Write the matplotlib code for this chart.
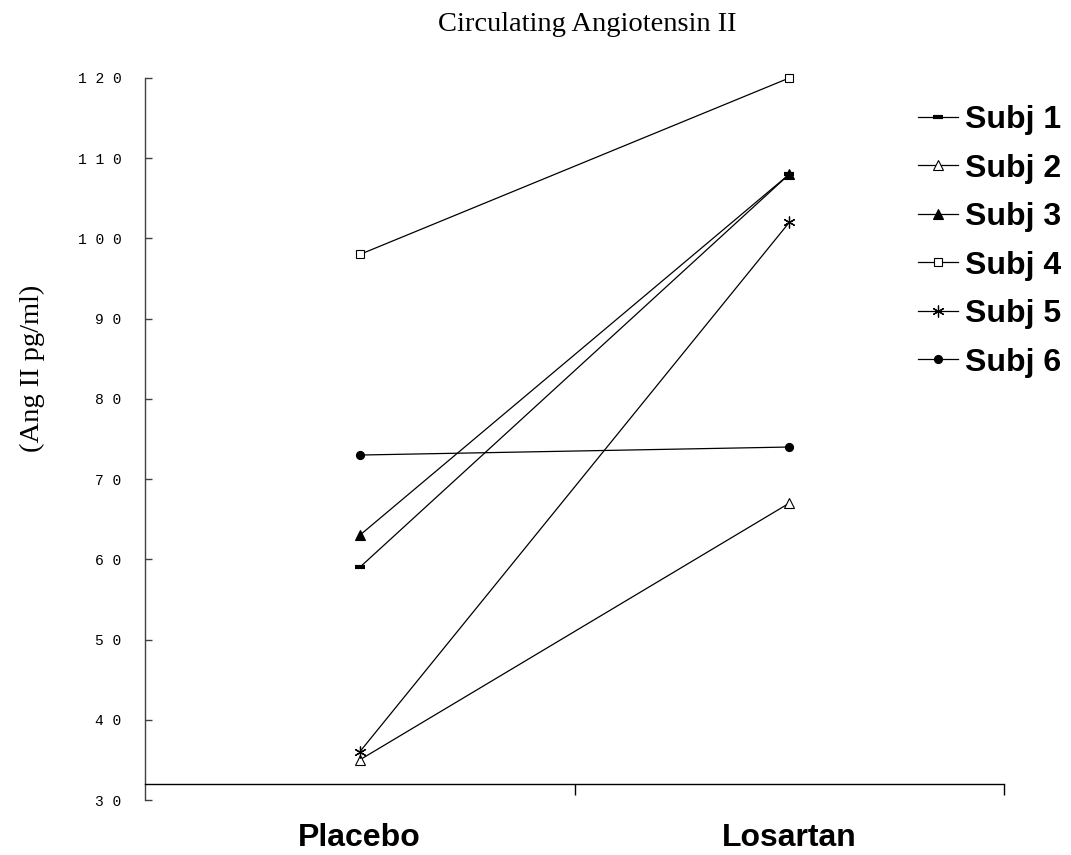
import numpy as np
import matplotlib.pyplot as plt

# Circulating Ang II, placebo vs losartan, per subject
groups = ["Placebo", "Losartan"]
subjects = ["Subj 1", "Subj 2", "Subj 3", "Subj 4", "Subj 5", "Subj 6"]
placebo = [59, 35, 63, 98, 36, 73]
losartan = [108, 67, 108, 120, 102, 74]
y_ticks = [30, 40, 50, 60, 70, 80, 90, 100, 110, 120]

# marker style for each subject: (marker, size, facecolor, edgewidth)
styles = [
    ("_", 7.5, "black", 3.0),
    ("^", 6.5, "white", 0.8),
    ("^", 6.5, "black", 0.8),
    ("s", 6, "white", 0.8),
    ((6, 2, 0), 8.5, "black", 0.9),
    ("o", 5.8, "black", 0.8),
]

fig = plt.figure(figsize=(10.71, 8.55), dpi=100)
ax = fig.add_axes([145 / 1071, 1 - 800 / 855, (1004 - 145) / 1071, (800 - 78) / 855])

x = np.array([0.5, 1.5])
for name, p, l, (mk, ms, fc, mew) in zip(subjects, placebo, losartan, styles):
    ax.plot(x, [p, l], color="black", lw=0.9, marker=mk, markersize=ms,
            markerfacecolor=fc, markeredgecolor="black", markeredgewidth=mew,
            label=name, clip_on=False)

ax.set_xlim(0, 2)
ax.set_ylim(30, 120)

for s in ["top", "right"]:
    ax.spines[s].set_visible(False)
ax.spines["bottom"].set_position(("data", 32))
ax.spines["left"].set_color("#404040")
ax.spines["left"].set_linewidth(1.0)
ax.spines["bottom"].set_linewidth(1.0)

# y ticks: spaced monospace digits, ticks pointing in
ax.set_yticks(y_ticks)
ax.set_yticklabels([" ".join(str(v)) for v in y_ticks],
                   fontfamily="Liberation Mono", fontsize=10.5)
ax.tick_params(axis="y", direction="in", length=5, width=1.0,
               color="#404040", pad=17)

# x: plain ticks at group edges, labels in between
ax.set_xticks([1, 2])
ax.set_xticklabels([])
ax.tick_params(axis="x", which="major", direction="out", length=8, width=1.0)
ax.set_xticks(x, minor=True)
ax.set_xticklabels(groups, minor=True, fontfamily="Liberation Sans",
                   fontweight="bold", fontsize=23)
ax.tick_params(axis="x", which="minor", length=0, pad=28)

fig.text(587 / 1071, 1 - 31 / 855, "Circulating Angiotensin II",
         fontfamily="Liberation Serif", fontsize=20.5, ha="center",
         va="baseline")
fig.text(32 / 1071, 1 - 368 / 855, "(Ang II pg/ml)",
         fontfamily="Liberation Serif", fontsize=20.5, rotation=90,
         ha="center", va="center")

ax.legend(loc="upper left", bbox_to_anchor=(918 / 1071, 1 - 105 / 855),
          bbox_transform=fig.transFigure, frameon=False, borderpad=0,
          borderaxespad=0, handlelength=1.25, handletextpad=0.22,
          labelspacing=0.58,
          prop={"family": "Liberation Sans", "weight": "bold", "size": 23})

fig.savefig("out.png", dpi=100)
